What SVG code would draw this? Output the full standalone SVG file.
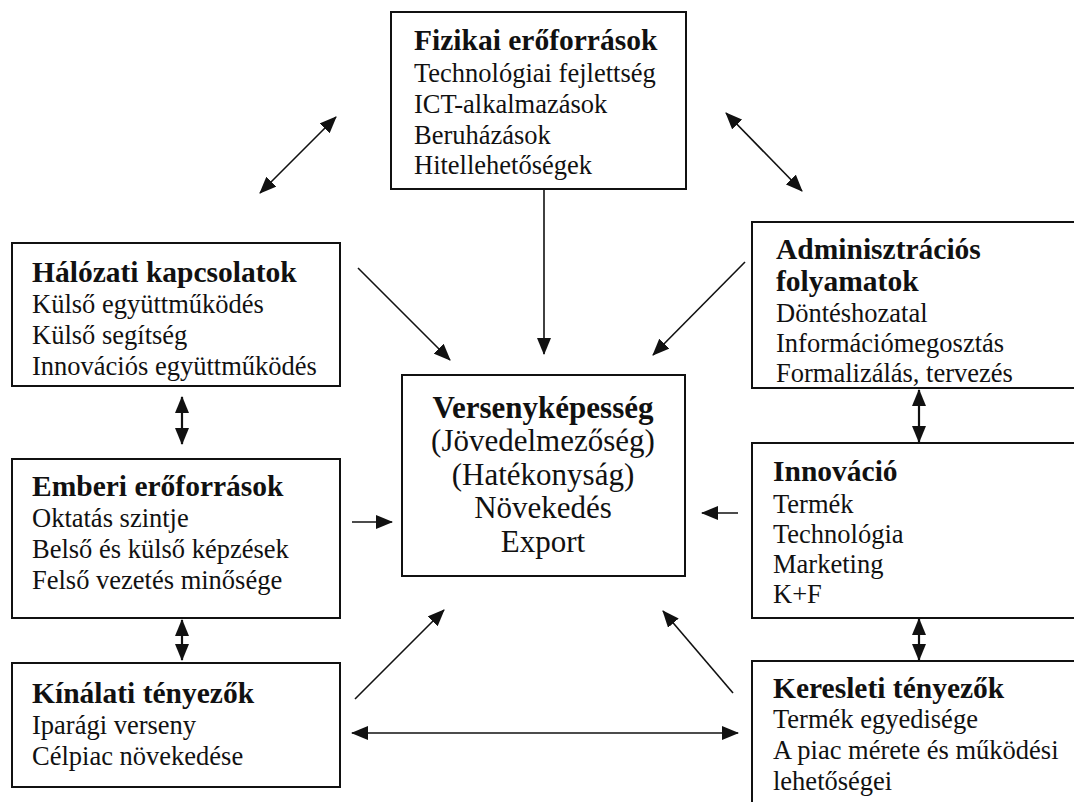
<svg xmlns="http://www.w3.org/2000/svg" width="1074" height="802" viewBox="0 0 1074 802">
  <style>
    .box { fill: #ffffff; stroke: #111111; stroke-width: 2; }
    .t { font-family: "Liberation Serif", "Times New Roman", serif; font-size: 26.5px; fill: #111111; }
    .h { font-family: "Liberation Serif", "Times New Roman", serif; font-size: 29.5px; font-weight: bold; fill: #111111; }
    .c { font-family: "Liberation Serif", "Times New Roman", serif; font-size: 31px; fill: #111111; text-anchor: middle; }
    .cb { font-weight: bold; }
    .ln { stroke: #111111; stroke-width: 1.6; fill: none; }
    .ln2 { stroke: #111111; stroke-width: 2.2; fill: none; }
  </style>
  <defs>
    <marker id="head" markerUnits="userSpaceOnUse" markerWidth="18" markerHeight="14" refX="16" refY="7" orient="auto-start-reverse" viewBox="0 0 18 14">
      <path d="M0,0 L17,7 L0,14 Z" fill="#111111"/>
    </marker>
  </defs>

  <rect width="1074" height="802" fill="#ffffff"/>

  <!-- connectors -->
  <g id="connectors">
    <!-- into the central box -->
    <line class="ln" x1="544" y1="189" x2="544" y2="354" marker-end="url(#head)"/>
    <line class="ln" x1="358" y1="268" x2="450" y2="360" marker-end="url(#head)"/>
    <line class="ln" x1="745" y1="262" x2="653" y2="355" marker-end="url(#head)"/>
    <line class="ln" x1="352" y1="522" x2="392" y2="522" marker-end="url(#head)"/>
    <line class="ln" x1="738" y1="513" x2="702" y2="513" marker-end="url(#head)"/>
    <line class="ln" x1="355" y1="699" x2="444" y2="610" marker-end="url(#head)"/>
    <line class="ln" x1="733" y1="693" x2="663" y2="611" marker-end="url(#head)"/>
    <!-- two-way links -->
    <line class="ln" x1="336" y1="117" x2="260" y2="193" marker-start="url(#head)" marker-end="url(#head)"/>
    <line class="ln" x1="726" y1="113" x2="802" y2="191" marker-start="url(#head)" marker-end="url(#head)"/>
    <line class="ln" x1="352" y1="733" x2="738" y2="733" marker-start="url(#head)" marker-end="url(#head)"/>
    <line class="ln2" x1="182" y1="397" x2="182" y2="444" marker-start="url(#head)" marker-end="url(#head)"/>
    <line class="ln2" x1="182" y1="620" x2="182" y2="660" marker-start="url(#head)" marker-end="url(#head)"/>
    <line class="ln2" x1="919" y1="390" x2="919" y2="442" marker-start="url(#head)" marker-end="url(#head)"/>
    <line class="ln2" x1="919" y1="619" x2="919" y2="660" marker-start="url(#head)" marker-end="url(#head)"/>
  </g>

  <g id="fizikai">
    <rect class="box" x="391" y="12" width="295" height="177"/>
    <text class="h" x="414" y="50">Fizikai erőforrások</text>
    <text class="t" x="414" y="82">Technológiai fejlettség</text>
    <text class="t" x="414" y="113">ICT-alkalmazások</text>
    <text class="t" x="414" y="144">Beruházások</text>
    <text class="t" x="414" y="174">Hitellehetőségek</text>
  </g>

  <g id="halozati">
    <rect class="box" x="12" y="243" width="328" height="143"/>
    <text class="h" x="32" y="282">Hálózati kapcsolatok</text>
    <text class="t" x="32" y="313">Külső együttműködés</text>
    <text class="t" x="32" y="344">Külső segítség</text>
    <text class="t" x="32" y="375">Innovációs együttműködés</text>
  </g>

  <g id="adminisztracios">
    <rect class="box" x="752" y="222" width="340" height="166"/>
    <text class="h" x="776" y="259">Adminisztrációs</text>
    <text class="h" x="776" y="291">folyamatok</text>
    <text class="t" x="776" y="322">Döntéshozatal</text>
    <text class="t" x="776" y="352">Információmegosztás</text>
    <text class="t" x="776" y="382">Formalizálás, tervezés</text>
  </g>

  <g id="versenykepesseg">
    <rect class="box" x="402" y="375" width="283" height="201"/>
    <text class="c cb" x="543" y="418">Versenyképesség</text>
    <text class="c" x="543" y="451">(Jövedelmezőség)</text>
    <text class="c" x="543" y="485">(Hatékonyság)</text>
    <text class="c" x="543" y="518">Növekedés</text>
    <text class="c" x="543" y="552">Export</text>
  </g>

  <g id="emberi">
    <rect class="box" x="12" y="459" width="328" height="159"/>
    <text class="h" x="32" y="496">Emberi erőforrások</text>
    <text class="t" x="32" y="527">Oktatás szintje</text>
    <text class="t" x="32" y="558">Belső és külső képzések</text>
    <text class="t" x="32" y="589">Felső vezetés minősége</text>
  </g>

  <g id="innovacio">
    <rect class="box" x="752" y="443" width="340" height="175"/>
    <text class="h" x="773" y="481">Innováció</text>
    <text class="t" x="773" y="513">Termék</text>
    <text class="t" x="773" y="543">Technológia</text>
    <text class="t" x="773" y="573">Marketing</text>
    <text class="t" x="773" y="603">K+F</text>
  </g>

  <g id="kinalati">
    <rect class="box" x="12" y="663" width="328" height="124"/>
    <text class="h" x="32" y="703">Kínálati tényezők</text>
    <text class="t" x="32" y="734">Iparági verseny</text>
    <text class="t" x="32" y="765">Célpiac növekedése</text>
  </g>

  <g id="keresleti">
    <rect class="box" x="752" y="661" width="340" height="160"/>
    <text class="h" x="773" y="698">Keresleti tényezők</text>
    <text class="t" x="773" y="728">Termék egyedisége</text>
    <text class="t" x="773" y="759">A piac mérete és működési</text>
    <text class="t" x="773" y="790">lehetőségei</text>
  </g>
</svg>
